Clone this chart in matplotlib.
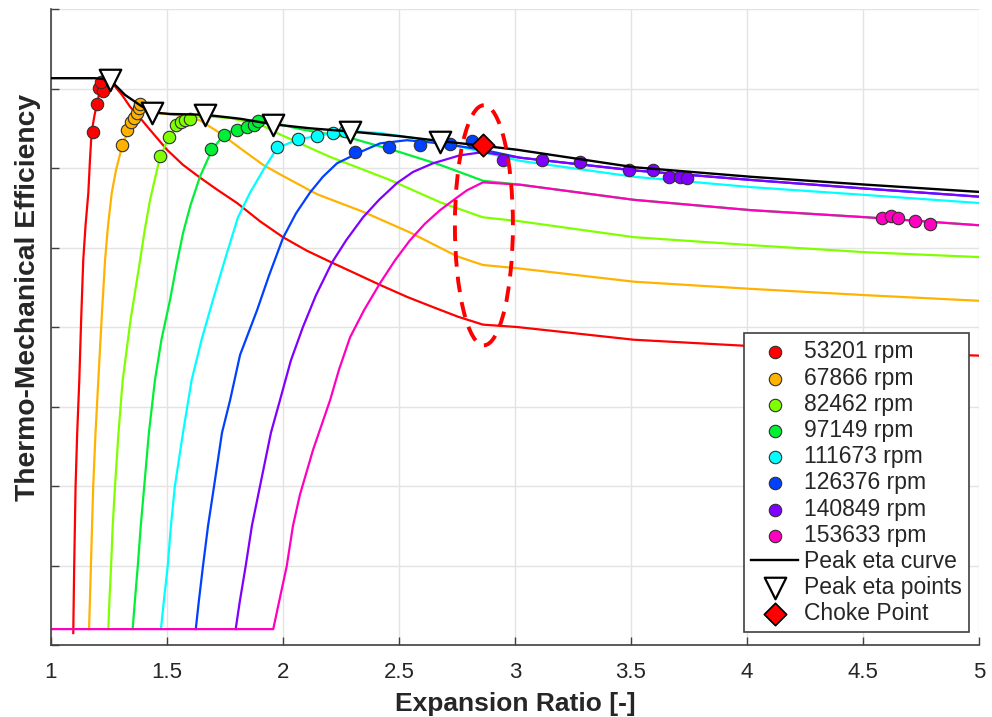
import numpy as np
from matplotlib import pyplot as plt
from matplotlib.patches import Ellipse

plt.rcParams['font.family'] = ['Liberation Sans', 'DejaVu Sans']

# --- speed lines: expansion ratio vs thermo-mechanical efficiency ---
er_53201 = [1.096, 1.098, 1.100, 1.103, 1.106, 1.113, 1.122, 1.130, 1.139, 1.149, 1.161, 1.168, 1.175,
            1.188, 1.197, 1.211, 1.228, 1.250, 1.272, 1.306, 1.341, 1.384, 1.427, 1.500, 1.569, 1.642,
            1.720, 1.802, 1.901, 2.000, 2.103, 2.211, 2.315, 2.418, 2.534, 2.647, 2.754, 2.862, 3.009,
            3.513, 4.017, 4.517, 5.000]
eta_53201 = [0.015, 0.057, 0.099, 0.150, 0.200, 0.267, 0.333, 0.409, 0.484, 0.528, 0.569, 0.610, 0.645,
             0.667, 0.679, 0.698, 0.708, 0.712, 0.704, 0.692, 0.677, 0.663, 0.648, 0.623, 0.604, 0.588,
             0.572, 0.556, 0.533, 0.513, 0.496, 0.481, 0.467, 0.453, 0.438, 0.425, 0.413, 0.403, 0.400,
             0.384, 0.376, 0.369, 0.364]

er_67866 = [1.164, 1.168, 1.172, 1.177, 1.182, 1.192, 1.204, 1.218, 1.233, 1.246, 1.262, 1.280, 1.305,
            1.341, 1.384, 1.440, 1.556, 1.642, 1.728, 1.815, 1.914, 2.000, 2.147, 2.345, 2.547, 2.750,
            2.862, 3.009, 3.513, 4.017, 4.517, 5.000]
eta_67866 = [0.020, 0.057, 0.099, 0.150, 0.200, 0.267, 0.333, 0.409, 0.484, 0.528, 0.569, 0.597, 0.626,
             0.654, 0.677, 0.670, 0.666, 0.660, 0.644, 0.625, 0.604, 0.590, 0.567, 0.545, 0.519, 0.489,
             0.478, 0.474, 0.457, 0.448, 0.440, 0.433]

er_82462 = [1.247, 1.252, 1.259, 1.266, 1.276, 1.291, 1.309, 1.343, 1.384, 1.404, 1.427, 1.470, 1.513,
            1.556, 1.608, 1.664, 1.772, 1.914, 1.974, 2.203, 2.461, 2.677, 2.862, 3.022, 3.513, 4.017,
            4.517, 5.000]
eta_82462 = [0.020, 0.057, 0.099, 0.150, 0.200, 0.267, 0.333, 0.409, 0.484, 0.522, 0.560, 0.614, 0.642,
             0.655, 0.663, 0.665, 0.663, 0.653, 0.644, 0.614, 0.585, 0.557, 0.538, 0.533, 0.513, 0.503,
             0.494, 0.488]

er_97149 = [1.352, 1.362, 1.374, 1.387, 1.402, 1.422, 1.448, 1.476, 1.513, 1.541, 1.569, 1.601, 1.642,
            1.694, 1.746, 1.815, 1.879, 1.922, 1.987, 2.073, 2.289, 2.504, 2.677, 2.862, 3.022, 3.513,
            4.017, 4.517, 5.000]
eta_97149 = [0.020, 0.057, 0.099, 0.150, 0.200, 0.267, 0.333, 0.384, 0.434, 0.478, 0.518, 0.553, 0.589,
             0.623, 0.642, 0.652, 0.657, 0.659, 0.655, 0.649, 0.638, 0.620, 0.604, 0.584, 0.579, 0.560,
             0.547, 0.538, 0.528]

er_111673 = [1.474, 1.487, 1.503, 1.517, 1.534, 1.569, 1.606, 1.649, 1.698, 1.752, 1.806, 1.858, 1.914,
             1.974, 2.065, 2.159, 2.267, 2.418, 2.677, 2.862, 3.022, 3.513, 4.017, 4.517, 5.000]
eta_111673 = [0.020, 0.057, 0.099, 0.150, 0.200, 0.267, 0.333, 0.384, 0.434, 0.487, 0.538, 0.569, 0.597,
              0.625, 0.636, 0.641, 0.647, 0.644, 0.633, 0.620, 0.609, 0.589, 0.576, 0.566, 0.556]

er_126376 = [1.624, 1.638, 1.655, 1.677, 1.703, 1.737, 1.772, 1.815, 1.888, 1.940, 2.000, 2.056, 2.116,
             2.172, 2.233, 2.332, 2.418, 2.534, 2.677, 2.862, 3.022, 3.513, 4.017, 4.517, 5.000]
eta_126376 = [0.020, 0.057, 0.099, 0.150, 0.200, 0.267, 0.308, 0.365, 0.421, 0.465, 0.512, 0.543, 0.569,
              0.589, 0.606, 0.620, 0.631, 0.635, 0.631, 0.623, 0.613, 0.597, 0.585, 0.574, 0.564]

er_140849 = [1.796, 1.815, 1.839, 1.866, 1.901, 1.948, 1.987, 2.034, 2.086, 2.142, 2.211, 2.272, 2.345,
             2.414, 2.491, 2.560, 2.647, 2.763, 2.862, 3.022, 3.513, 4.017, 4.517, 5.000]
eta_140849 = [0.020, 0.057, 0.099, 0.150, 0.200, 0.267, 0.308, 0.358, 0.400, 0.440, 0.481, 0.509, 0.538,
              0.560, 0.581, 0.595, 0.606, 0.616, 0.620, 0.613, 0.597, 0.585, 0.574, 0.564]

er_153633 = [1.000, 1.958, 1.985, 2.016, 2.043, 2.073, 2.129, 2.203, 2.241, 2.289, 2.349, 2.418, 2.483,
             2.547, 2.612, 2.677, 2.741, 2.793, 2.862, 3.022, 3.513, 4.017, 4.517, 5.000]
eta_153633 = [0.020, 0.020, 0.057, 0.099, 0.150, 0.189, 0.245, 0.308, 0.346, 0.387, 0.421, 0.455, 0.484,
              0.509, 0.530, 0.547, 0.561, 0.572, 0.582, 0.579, 0.560, 0.547, 0.538, 0.528]

# --- measured points ---
pts_er_53201 = [1.181, 1.198, 1.207, 1.224, 1.216]
pts_eta_53201 = [0.645, 0.681, 0.701, 0.697, 0.708]
pts_er_67866 = [1.306, 1.328, 1.345, 1.358, 1.371, 1.379, 1.384]
pts_eta_67866 = [0.629, 0.648, 0.658, 0.663, 0.669, 0.675, 0.681]
pts_er_82462 = [1.470, 1.509, 1.539, 1.560, 1.578, 1.599]
pts_eta_82462 = [0.615, 0.639, 0.654, 0.658, 0.660, 0.662]
pts_er_97149 = [1.690, 1.746, 1.802, 1.845, 1.875, 1.892]
pts_eta_97149 = [0.624, 0.642, 0.648, 0.652, 0.654, 0.659]
pts_er_111673 = [1.974, 2.065, 2.147, 2.216, 2.267]
pts_eta_111673 = [0.626, 0.636, 0.640, 0.644, 0.647]
pts_er_126376 = [2.310, 2.457, 2.591, 2.720, 2.815]
pts_eta_126376 = [0.620, 0.626, 0.629, 0.630, 0.634]
pts_er_140849 = [2.948, 3.116, 3.280, 3.491, 3.595, 3.664, 3.711, 3.741]
pts_eta_140849 = [0.610, 0.610, 0.608, 0.597, 0.597, 0.589, 0.589, 0.587]
pts_er_153633 = [4.582, 4.621, 4.651, 4.724, 4.789]
pts_eta_153633 = [0.537, 0.540, 0.537, 0.533, 0.530]

# --- peak efficiency envelope ---
peak_curve_er = [1.000, 1.190, 1.254, 1.319, 1.384, 1.435, 1.513, 1.664, 1.815, 1.957, 2.116, 2.289,
                 2.504, 2.677, 2.862, 3.009, 3.513, 4.017, 4.517, 5.000]
peak_curve_eta = [0.713, 0.713, 0.711, 0.692, 0.679, 0.670, 0.668, 0.667, 0.662, 0.655, 0.650, 0.646,
                  0.640, 0.634, 0.628, 0.623, 0.601, 0.589, 0.579, 0.570]
peak_pts_er = [1.254, 1.435, 1.664, 1.957, 2.289, 2.677]
peak_pts_eta = [0.711, 0.669, 0.667, 0.654, 0.645, 0.633]
choke_er = [2.862]
choke_eta = [0.629]

labels = ['53201 rpm', '67866 rpm', '82462 rpm', '97149 rpm',
          '111673 rpm', '126376 rpm', '140849 rpm', '153633 rpm']
colors = ['#ff0000', '#ffb300', '#80ff00', '#00f035', '#00ffff', '#0040ff', '#8000ff', '#ff00bf']


def plot_chart():
    fig = plt.figure(figsize=(9.92, 7.17), dpi=100)
    ax = fig.add_axes([0.0514, 0.1004, 0.9355, 0.887])

    lines = [(er_53201, eta_53201), (er_67866, eta_67866), (er_82462, eta_82462),
             (er_97149, eta_97149), (er_111673, eta_111673), (er_126376, eta_126376),
             (er_140849, eta_140849), (er_153633, eta_153633)]
    points = [(pts_er_53201, pts_eta_53201), (pts_er_67866, pts_eta_67866),
              (pts_er_82462, pts_eta_82462), (pts_er_97149, pts_eta_97149),
              (pts_er_111673, pts_eta_111673), (pts_er_126376, pts_eta_126376),
              (pts_er_140849, pts_eta_140849), (pts_er_153633, pts_eta_153633)]

    for (x, y), c in zip(lines, colors):
        ax.plot(x, y, color=c, lw=1.6, zorder=2, solid_joinstyle='round')
    for (x, y), c, lab in zip(points, colors, labels):
        ax.scatter(x, y, s=80, color=c, edgecolors='#303030', linewidths=0.8, zorder=3, label=lab)

    ax.plot(peak_curve_er, peak_curve_eta, color='black', lw=1.7, zorder=4, label='Peak eta curve')
    ax.scatter(peak_pts_er, peak_pts_eta, marker='v', s=240, facecolors='white',
               edgecolors='black', linewidths=1.6, zorder=5, label='Peak eta points')
    ax.scatter(choke_er, choke_eta, marker='D', s=130, color='red', edgecolors='black',
               linewidths=1.2, zorder=6, label='Choke Point')

    # highlight of the choke region
    ell = Ellipse((2.866, 0.528), 0.25, 0.302, fill=False, edgecolor='red', lw=2.8,
                  linestyle=(0, (4, 2.6)), zorder=7)
    ax.add_patch(ell)

    ax.set_xlim(1, 5)
    ax.set_ylim(0, 0.8)
    ax.set_xticks([1, 1.5, 2, 2.5, 3, 3.5, 4, 4.5, 5])
    ax.set_xticklabels(['1', '1.5', '2', '2.5', '3', '3.5', '4', '4.5', '5'])
    ax.set_yticks([0, 0.1, 0.2, 0.3, 0.4, 0.5, 0.6, 0.7, 0.8])
    ax.set_yticklabels([])
    ax.tick_params(direction='in', length=6, width=1, colors='#404040', labelsize=16,
                   labelcolor='#262626', pad=12)
    ax.grid(True, color='#e3e3e3', lw=1)
    ax.set_axisbelow(True)
    for side in ['top', 'right']:
        ax.spines[side].set_visible(False)
    for side in ['left', 'bottom']:
        ax.spines[side].set_color('#404040')
        ax.spines[side].set_linewidth(1.2)

    ax.set_xlabel('Expansion Ratio [-]', fontsize=19, fontweight='bold', color='#262626', labelpad=7)
    ax.set_ylabel('Thermo-Mechanical Efficiency', fontsize=20.3, fontweight='bold', color='#262626')
    ax.yaxis.set_label_coords(-0.011, 0.547)

    leg = ax.legend(loc='lower right', bbox_to_anchor=(0.989, 0.020), borderaxespad=0,
                    fontsize=16.5, frameon=True, fancybox=False, edgecolor='#404040',
                    framealpha=1, labelspacing=0.14, handlelength=2.05, handletextpad=0.25,
                    borderpad=0.3, scatterpoints=1)
    leg.get_frame().set_linewidth(1.2)
    for t in leg.get_texts():
        t.set_color('#262626')

    fig.savefig('out.png', dpi=100)


if __name__ == '__main__':
    plot_chart()
